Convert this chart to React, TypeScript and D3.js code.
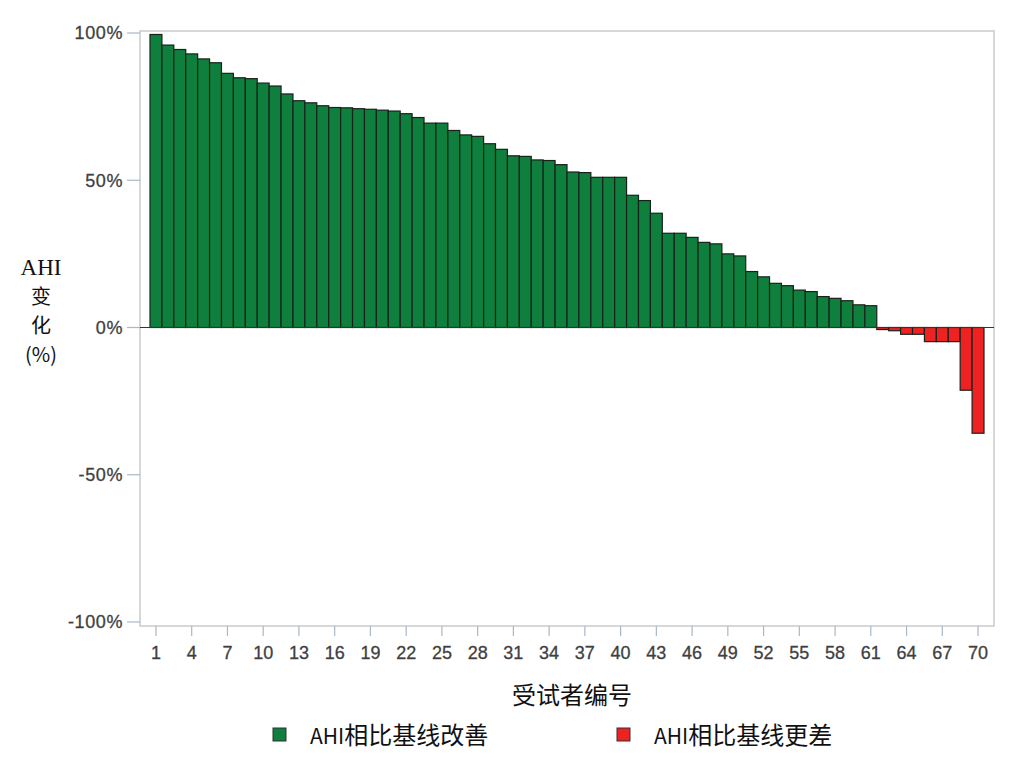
import React from "react";
import * as d3 from "d3";

const subjects: number[] = d3.range(1, 71);
const ahiChange: number[] = [
  99.5, 95.9, 94.4, 92.9, 91.2, 89.9, 86.3, 84.8, 84.5, 83.0,
  82.0, 79.3, 77.0, 76.3, 75.3, 74.7, 74.6, 74.3, 74.1, 73.8,
  73.5, 72.6, 71.3, 69.4, 69.4, 66.9, 65.4, 64.9, 62.4, 60.5,
  58.3, 58.1, 56.9, 56.7, 55.3, 52.8, 52.6, 51.0, 51.0, 51.0,
  44.9, 43.1, 38.8, 32.0, 32.0, 30.6, 28.9, 28.4, 25.0, 24.3,
  19.0, 17.2, 15.0, 14.2, 12.7, 12.2, 10.5, 9.9, 9.1, 7.7,
  7.4, -0.7, -1.1, -2.3, -2.3, -4.8, -4.8, -4.8, -21.3, -35.9,
];
const xTickLabels: number[] = [1, 4, 7, 10, 13, 16, 19, 22, 25, 28, 31, 34, 37, 40, 43, 46, 49, 52, 55, 58, 61, 64, 67, 70];
const yTicks: number[] = [100, 50, 0, -50, -100];
const legendItems = [
  { prefix: "AHI", label: "相比基线改善", color: "#0e7f3d" },
  { prefix: "AHI", label: "相比基线更差", color: "#ee2222" },
];

const W = 1016;
const H = 775;
const frame = { left: 140, right: 994, top: 31, bottom: 626 };

export default function App() {
  const x = d3.scaleBand<number>().domain(subjects).range([150, 984]).paddingInner(0).paddingOuter(0);
  const y = d3.scaleLinear().domain([-100, 100]).range([622, 33]);
  const sans = "'Liberation Sans', Arial, sans-serif";
  const cjk = "'Noto Sans CJK SC', 'Noto Sans', sans-serif";
  return (
    <svg width={W} height={H} style={{ position: "absolute", left: 0, top: 0, background: "#fff" }}>
      <rect x={0} y={0} width={W} height={H} fill="#fff" />
      {/* frame */}
      <rect x={frame.left} y={frame.top} width={frame.right - frame.left} height={frame.bottom - frame.top}
        fill="#fff" stroke="#cacaca" strokeWidth={1.5} />
      {/* bars */}
      {subjects.map((s, i) => {
        const v = ahiChange[i];
        const y0 = y(0);
        const yv = y(v);
        return (
          <rect key={s} x={x(s)!} width={x.bandwidth()} y={Math.min(y0, yv)} height={Math.abs(yv - y0)}
            fill={v >= 0 ? legendItems[0].color : legendItems[1].color} stroke="#18221b" strokeWidth={1.2} />
        );
      })}
      {/* zero line */}
      <line x1={frame.left} x2={frame.right} y1={y(0)} y2={y(0)} stroke="#333" strokeWidth={1.2} />
      {/* y ticks */}
      {yTicks.map((t) => (
        <g key={t}>
          <line x1={127} x2={frame.left} y1={y(t)} y2={y(t)} stroke="#a9b8c6" strokeWidth={1.2} />
          <text x={123} y={y(t)} dy="0.35em" textAnchor="end" fontFamily={sans} fontSize={18}
            letterSpacing={0.6} fill="#3f3f3f" stroke="#3f3f3f" strokeWidth={0.3}>{`${t}%`}</text>
        </g>
      ))}
      {/* x ticks */}
      {xTickLabels.map((t) => {
        const cx = x(t)! + x.bandwidth() / 2;
        return (
          <g key={t}>
            <line x1={cx} x2={cx} y1={frame.bottom} y2={636} stroke="#a9b8c6" strokeWidth={1.2} />
            <text x={cx} y={659} textAnchor="middle" fontFamily={sans} fontSize={18} fill="#3f3f3f"
              stroke="#3f3f3f" strokeWidth={0.3}>{t}</text>
          </g>
        );
      })}
      {/* y axis title */}
      <text x={41} y={275} textAnchor="middle" fontFamily="'Liberation Serif', 'Times New Roman', serif" fontSize={23} fill="#111">AHI</text>
      <text x={41} y={304} textAnchor="middle" fontFamily={cjk} fontSize={20} fill="#111">变</text>
      <text x={41} y={333} textAnchor="middle" fontFamily={cjk} fontSize={20} fill="#111">化</text>
      <text x={41} y={362} textAnchor="middle" fontFamily={cjk} fontSize={20} fill="#111">(%)</text>
      {/* x axis title */}
      <text x={572} y={704} textAnchor="middle" fontFamily={cjk} fontSize={24} fill="#111">受试者编号</text>
      {/* legend */}
      {legendItems.map((item, i) => {
        const sx = i === 0 ? 273 : 617;
        return (
          <g key={item.label}>
            <rect x={sx} y={728} width={13} height={13} fill={item.color} stroke="#333" strokeWidth={1} />
            <text x={sx + 37} y={744} fontFamily={cjk} fill="#111">
              <tspan fontSize={21}>{item.prefix}</tspan>
              <tspan fontSize={24}>{item.label}</tspan>
            </text>
          </g>
        );
      })}
    </svg>
  );
}
